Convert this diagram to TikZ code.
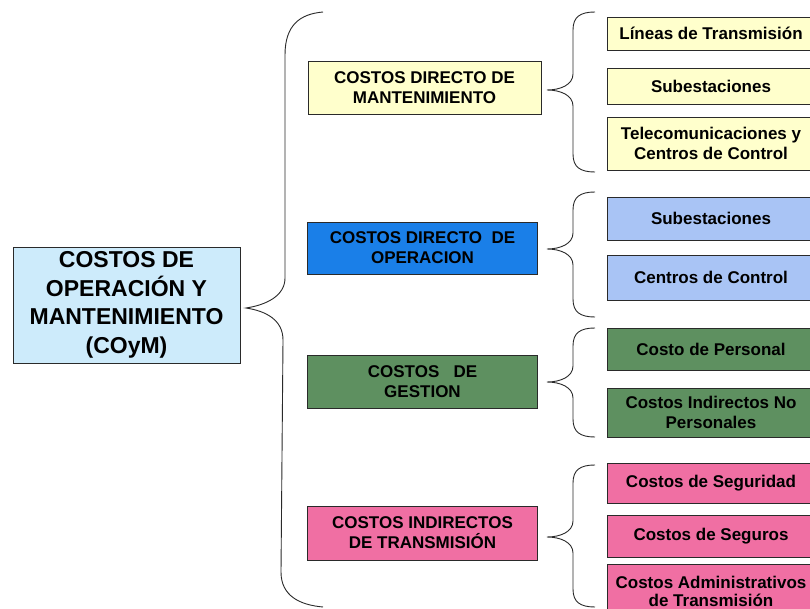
\documentclass[tikz,border=0pt]{standalone}
\usepackage{fontspec}
\setmainfont{Liberation Sans}
\definecolor{mainblue}{HTML}{CDEBFB}
\definecolor{myyellow}{HTML}{FFFFCC}
\definecolor{mybluedark}{HTML}{1A7FE8}
\definecolor{mybluelight}{HTML}{A9C4F5}
\definecolor{mygreen}{HTML}{5E9060}
\definecolor{mypink}{HTML}{F06FA3}
\definecolor{lineclr}{HTML}{2A2A2A}
\tikzset{
  boxbase/.style={draw=lineclr, line width=0.8bp, align=center, inner sep=0pt, font=\bfseries\fontsize{17bp}{20bp}\selectfont},
  mainbox/.style={boxbase, fill=mainblue, minimum width=227bp, minimum height=116bp, font=\bfseries\fontsize{23bp}{28.5bp}\selectfont},
  midbox/.style={boxbase, minimum width=230bp, minimum height=53bp},
  rightbox/.style={boxbase, minimum width=208bp},
  braceline/.style={draw=lineclr, line width=0.9bp},
}
\newcommand{\mybrace}[3]{%
  \draw[braceline] (595,#1) .. controls (580,#1) and (573,#1+5) .. (573,#1+18)
    -- (573,#2-16) .. controls (573,#2-5) and (560,#2) .. (547,#2)
    .. controls (560,#2) and (573,#2+5) .. (573,#2+16)
    -- (573,#3-18) .. controls (573,#3-5) and (580,#3) .. (595,#3);}
\begin{document}
\begin{tikzpicture}[x=1bp,y=-1bp]
\useasboundingbox (0,0) rectangle (810,609);
\clip (0,0) rectangle (810,609);
\fill[white] (0,0) rectangle (810,609);
% main node
\node[mainbox] (main) at (126.5,305) {COSTOS DE\\OPERACIÓN Y\\MANTENIMIENTO\\(COyM)};
% middle column
\node[midbox, fill=myyellow, minimum width=233bp] (mant) at (424.5,87.5) {COSTOS DIRECTO DE\\MANTENIMIENTO};
\node[midbox, fill=mybluedark, minimum height=52bp] (oper) at (422.5,248) {COSTOS DIRECTO\ \ DE\\OPERACION};
\node[midbox, fill=mygreen] (gest) at (422.5,381.5) {COSTOS\ \ \ DE\\GESTION};
\node[midbox, fill=mypink, minimum height=54bp] (indi) at (422.5,533) {COSTOS INDIRECTOS\\DE TRANSMISIÓN};
% right column
\node[rightbox, fill=myyellow, minimum height=33bp] (r1) at (711,33.5) {Líneas de Transmisión};
\node[rightbox, fill=myyellow, minimum height=36bp] (r2) at (711,86) {Subestaciones};
\node[rightbox, fill=myyellow, minimum height=53bp] (r3) at (711,143.5) {Telecomunicaciones y\\Centros de Control};
\node[rightbox, fill=mybluelight, minimum height=43bp] (r4) at (711,218.5) {Subestaciones};
\node[rightbox, fill=mybluelight, minimum height=45bp] (r5) at (711,277.5) {Centros de Control};
\node[rightbox, fill=mygreen, minimum height=42bp] (r6) at (711,349) {Costo de Personal};
\node[rightbox, fill=mygreen, minimum height=49bp] (r7) at (711,412.5) {Costos Indirectos No\\Personales};
\node[rightbox, fill=mypink, minimum height=40bp] (r8) at (711,483) {Costos de Seguridad};
\node[rightbox, fill=mypink, minimum height=42bp] (r9) at (711,536) {Costos de Seguros};
\node[rightbox, fill=mypink, minimum height=54bp, font=\bfseries\fontsize{17bp}{18bp}\selectfont] (r10) at (711,591) {Costos Administrativos\\de Transmisión};
% big brace
\draw[braceline] (323,12) .. controls (300,14) and (285,25) .. (285,55)
  -- (285,278) .. controls (285,296) and (266,305) .. (246,308)
  .. controls (266,311) and (283,320) .. (283,340)
  -- (281,572) .. controls (281,596) and (300,605) .. (323,607);
% small braces
\mybrace{12}{90}{172}
\mybrace{192}{249}{317}
\mybrace{328}{382}{437}
\mybrace{465}{537}{607}
\end{tikzpicture}
\end{document}
